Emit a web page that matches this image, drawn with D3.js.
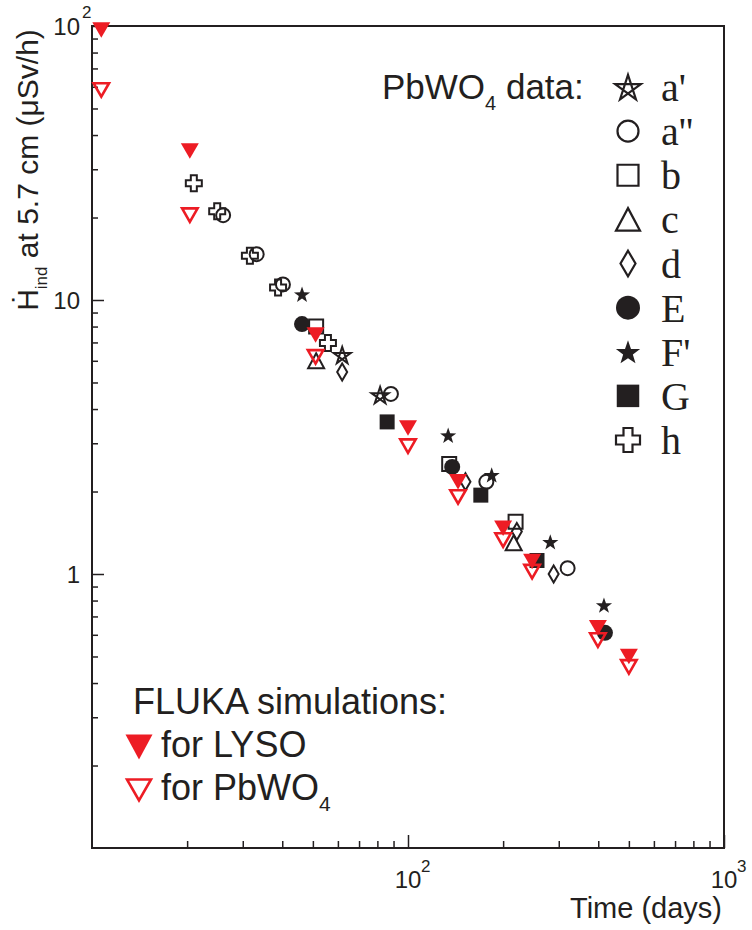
<!DOCTYPE html>
<html lang="en">
<head>
<meta charset="UTF-8">
<title>Induced dose rate vs time</title>
<style>
  body { margin: 0; background: #fff; }
  svg { font-family: "Liberation Sans", Arial, sans-serif; }
  text { fill: #231f20; }
  .serif { font-family: "Liberation Serif", "Times New Roman", serif; }
</style>
</head>
<body>
<svg id="chart" width="752" height="930"></svg>
<script src="https://d3js.org/d3.v7.min.js"></script>
<script>
// values: time in days, dose rate in uSv/h

// FLUKA simulations
const simTimes = [10.7, 20.4, 51, 100, 144, 200, 247, 399, 500];
const simLyso = [96.7, 35.0, 7.45, 3.41, 2.17, 1.47, 1.11, 0.636, 0.50];
const simPbwo = [58.4, 20.4, 6.2, 2.93, 1.91, 1.33, 1.02, 0.574, 0.458];

// PbWO4 measurements
const seriesNames = ["a'", "a''", "b", "c", "d", "E", "F'", "G", "h"];
const seriesTimes = [
  [61.9, 81.6],
  [26.0, 33.2, 40.2, 88.3, 177, 320],
  [51.2, 135, 219],
  [51.2, 216],
  [61.9, 152, 221, 289],
  [46.2, 138, 420],
  [46.2, 134, 184, 282, 417],
  [85.9, 170, 256],
  [21.0, 24.9, 31.6, 38.8, 55.8]
];
const seriesValues = [
  [6.3, 4.5],
  [20.4, 14.7, 11.4, 4.54, 2.17, 1.05],
  [8.0, 2.52, 1.55],
  [6.0, 1.30],
  [5.46, 2.17, 1.43, 1.0],
  [8.17, 2.46, 0.61],
  [10.5, 3.21, 2.30, 1.31, 0.77],
  [3.59, 1.94, 1.12],
  [26.7, 21.1, 14.5, 11.1, 6.97]
];

// tick labels
const xTickValues = [100, 1000];
const xTickLabels = [["10", "2"], ["10", "3"]];
const yTickValues = [1, 10, 100];
const yTickLabels = [["1", ""], ["10", ""], ["10", "2"]];

const black = "#231f20";
const red = "#ed1c24";

const markerShape = ["pentagram", "circle", "square", "triangle", "diamond", "dot", "star", "block", "cross"];
const markerFilled = [false, false, false, false, false, true, true, true, false];

const svg = d3.select("#chart");

const x = d3.scaleLog().domain([10, 1000]).range([92, 724]);
const y = d3.scaleLog().domain([0.1, 100]).range([848, 26]);

// marker paths, centred on 0,0
function starPoints(R, r) {
  const pts = [];
  for (let i = 0; i < 10; i++) {
    const a = -Math.PI / 2 + i * Math.PI / 5;
    const rr = i % 2 ? r : R;
    pts.push([rr * Math.cos(a), rr * Math.sin(a) + R * 0.1]);
  }
  return pts;
}
function markerPath(shape, k) {
  let s;
  switch (shape) {
    case "circle": s = 7 * k; return `M${-s},0A${s},${s} 0 1,0 ${s},0A${s},${s} 0 1,0 ${-s},0Z`;
    case "dot": s = 8 * k; return `M${-s},0A${s},${s} 0 1,0 ${s},0A${s},${s} 0 1,0 ${-s},0Z`;
    case "square": s = 7 * k; return `M${-s},${-s}H${s}V${s}H${-s}Z`;
    case "block": s = 7.5 * k; return `M${-s},${-s}H${s}V${s}H${-s}Z`;
    case "triangle": return `M0,${-7.5 * k}L${8 * k},${7.5 * k}L${-8 * k},${7.5 * k}Z`;
    case "diamond": return `M0,${-8.5 * k}L${5 * k},0L0,${8.5 * k}L${-5 * k},0Z`;
    case "star": return "M" + starPoints(8.5 * k, 3.4 * k).map(p => p.join(",")).join("L") + "Z";
    case "pentagram": {
      const p = starPoints(9 * k, 3.6 * k).filter((d, i) => i % 2 === 0);
      return "M" + [0, 2, 4, 1, 3].map(i => p[i].join(",")).join("L") + "Z";
    }
    case "cross": {
      const L = 8 * k, a = 3 * k;
      return `M${-a},${-L}H${a}V${-a}H${L}V${a}H${a}V${L}H${-a}V${a}H${-L}V${-a}H${-a}Z`;
    }
  }
}
function triDown(w, h) {
  return `M${-w / 2},${-h / 2}L${w / 2},${-h / 2}L0,${h / 2}Z`;
}

// frame
svg.append("rect")
  .attr("x", 92).attr("y", 26)
  .attr("width", 632).attr("height", 822)
  .attr("fill", "none").attr("stroke", black).attr("stroke-width", 2);

// ticks (inward), majors and minors
const xMinor = x.ticks().filter(d => !xTickValues.includes(d) && d !== 10);
const yMinor = y.ticks().filter(d => !yTickValues.includes(d) && d !== 0.1);

function tickStyle(g) {
  g.select(".domain").remove();
  g.selectAll(".tick line").attr("stroke", black).attr("stroke-width", 1.5);
}
svg.append("g").attr("transform", "translate(0,848)")
  .call(d3.axisBottom(x).tickValues(xTickValues).tickSize(-13).tickFormat(""))
  .call(tickStyle);
svg.append("g").attr("transform", "translate(0,848)")
  .call(d3.axisBottom(x).tickValues(xMinor).tickSize(-7).tickFormat(""))
  .call(tickStyle);
svg.append("g").attr("transform", "translate(92,0)")
  .call(d3.axisLeft(y).tickValues(yTickValues).tickSize(-12).tickFormat(""))
  .call(tickStyle);
svg.append("g").attr("transform", "translate(92,0)")
  .call(d3.axisLeft(y).tickValues(yMinor).tickSize(-6).tickFormat(""))
  .call(tickStyle);

// tick labels with superscripts
xTickValues.forEach((v, i) => {
  svg.append("text").attr("x", x(v)).attr("y", 888)
    .attr("text-anchor", "middle").attr("font-size", 24).text(xTickLabels[i][0]);
  svg.append("text").attr("x", x(v) + 13).attr("y", 872)
    .attr("font-size", 17).text(xTickLabels[i][1]);
});
yTickValues.forEach((v, i) => {
  svg.append("text").attr("x", 80).attr("y", y(v) + 8.5)
    .attr("text-anchor", "end").attr("font-size", 24).text(yTickLabels[i][0]);
  if (yTickLabels[i][1]) {
    svg.append("text").attr("x", 82).attr("y", y(v) - 8)
      .attr("font-size", 17).text(yTickLabels[i][1]);
  }
});

// axis titles
svg.append("text").attr("x", 722).attr("y", 918)
  .attr("text-anchor", "end").attr("font-size", 29).text("Time (days)");

const yTitle = svg.append("text")
  .attr("transform", "translate(38,170) rotate(-90)")
  .attr("text-anchor", "middle").attr("font-size", 30);
yTitle.append("tspan").text("\u1E22");
yTitle.append("tspan").attr("dy", 9).attr("font-size", 17).text("ind");
yTitle.append("tspan").attr("dy", -9).text(" at 5.7 cm (\u03BCSv/h)");

// data markers: PbWO4 measurements
seriesNames.forEach((name, i) => {
  const pts = seriesTimes[i].map((t, j) => [t, seriesValues[i][j]]);
  svg.append("g").selectAll("path").data(pts).join("path")
    .attr("transform", d => `translate(${x(d[0])},${y(d[1])})`)
    .attr("d", markerPath(markerShape[i], 1))
    .attr("fill", markerFilled[i] ? black : "none")
    .attr("stroke", markerFilled[i] ? "none" : black)
    .attr("stroke-width", 2)
    .attr("stroke-linejoin", "miter");
});

// FLUKA simulations
const simPts = simTimes.map((t, j) => ({ t, lyso: simLyso[j], pbwo: simPbwo[j] }));
svg.append("g").selectAll("path").data(simPts).join("path")
  .attr("transform", d => `translate(${x(d.t)},${y(d.pbwo)})`)
  .attr("d", triDown(15.5, 13.5))
  .attr("fill", "none").attr("stroke", red).attr("stroke-width", 2.6);
svg.append("g").selectAll("path").data(simPts).join("path")
  .attr("transform", d => `translate(${x(d.t)},${y(d.lyso)})`)
  .attr("d", triDown(18, 15.5))
  .attr("fill", red);

// legend: PbWO4 data
const pb = svg.append("text").attr("x", 382).attr("y", 99).attr("font-size", 35);
pb.append("tspan").text("PbWO");
pb.append("tspan").attr("dy", 11).attr("font-size", 20).text("4");
pb.append("tspan").attr("dy", -11).text(" data:");

const legY = d3.scaleLinear().domain([0, seriesNames.length - 1]).range([87, 440]);
seriesNames.forEach((name, i) => {
  svg.append("path")
    .attr("transform", `translate(628,${legY(i)})`)
    .attr("d", markerPath(markerShape[i], 1.5))
    .attr("fill", markerFilled[i] ? black : "none")
    .attr("stroke", markerFilled[i] ? "none" : black)
    .attr("stroke-width", 2.2);
  svg.append("text").attr("class", "serif")
    .attr("x", 661).attr("y", legY(i) + 14)
    .attr("font-size", 40).text(name);
});

// legend: FLUKA
svg.append("text").attr("x", 133).attr("y", 714).attr("font-size", 36).text("FLUKA simulations:");
svg.append("path").attr("transform", "translate(139,747)")
  .attr("d", triDown(27, 25)).attr("fill", red);
svg.append("text").attr("x", 161).attr("y", 757).attr("font-size", 36).text("for LYSO");
svg.append("path").attr("transform", "translate(139,790)")
  .attr("d", triDown(24, 21)).attr("fill", "none").attr("stroke", red).attr("stroke-width", 2.6);
const fp = svg.append("text").attr("x", 161).attr("y", 800).attr("font-size", 36);
fp.append("tspan").text("for PbWO");
fp.append("tspan").attr("dy", 11).attr("font-size", 21).text("4");
</script>
</body>
</html>
